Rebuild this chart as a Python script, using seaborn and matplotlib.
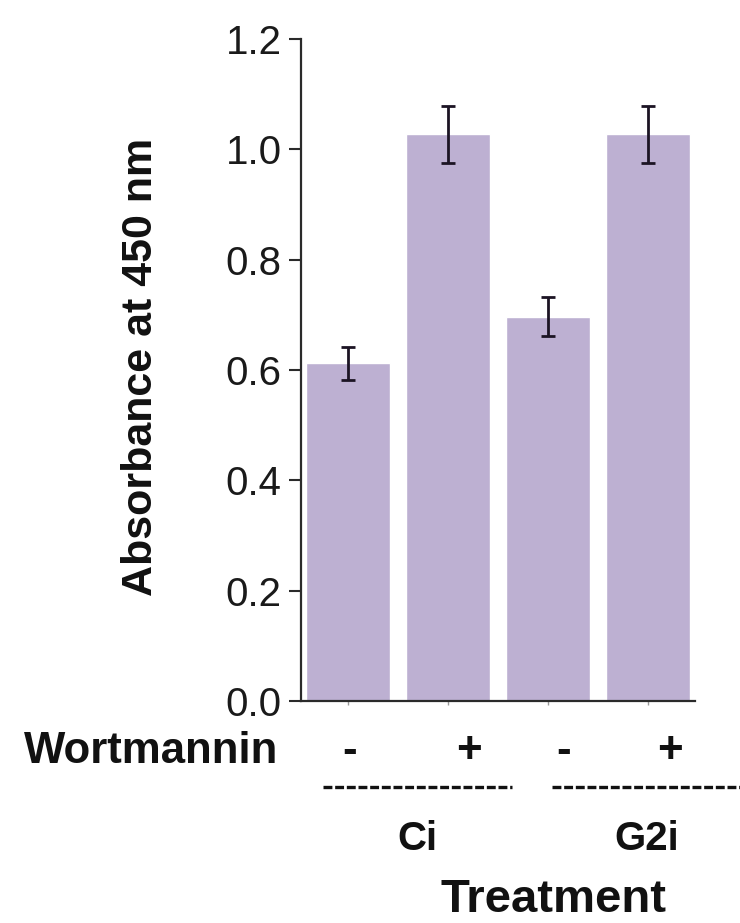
import matplotlib
matplotlib.use('Agg')
import matplotlib.pyplot as plt
from matplotlib.lines import Line2D
import seaborn as sns
import pandas as pd
import numpy as np

# ---- data ----
groups = ['Ci -', 'Ci +', 'G2i -', 'G2i +']
wortmannin = ['-', '+', '-', '+']
treatments = ['Ci', 'G2i']
absorbance = [0.612, 1.027, 0.697, 1.027]
sem = [0.030, 0.051, 0.035, 0.051]
yticks = [0.0, 0.2, 0.4, 0.6, 0.8, 1.0, 1.2]
ytick_labels = ['0.0', '0.2', '0.4', '0.6', '0.8', '1.0', '1.2']

BAR = '#BDB0D2'
DARK = '#1c1424'

sns.set_style('white')
plt.rcParams['font.family'] = ['Liberation Sans', 'DejaVu Sans']
plt.rcParams['lines.scale_dashes'] = False

df = pd.DataFrame({'group': groups, 'absorbance': absorbance})

fig = plt.figure(figsize=(7.4, 9.23), dpi=100)
ax = fig.add_axes([0.4068, 0.2405, 0.5324, 0.7172])

sns.barplot(data=df, x='group', y='absorbance', color=BAR, saturation=1,
            width=0.84, errorbar=None, ax=ax)
xpos = np.arange(len(groups))
ax.errorbar(x=xpos, y=absorbance, yerr=sem, fmt='none', ecolor=DARK,
            elinewidth=2.0, capsize=4.8, capthick=2.0, zorder=5)

ax.set_xlim(-0.47, 3.47)
ax.set_ylim(0, 1.2)
ax.set_yticks(yticks)
ax.set_yticklabels(ytick_labels)
ax.set_xticks(xpos)
ax.set_xticklabels([])
ax.set_xlabel('')

sns.despine(ax=ax)
for s in ['left', 'bottom']:
    ax.spines[s].set_linewidth(1.6)
    ax.spines[s].set_color('#2a2a2a')

ax.tick_params(axis='y', left=True, length=9, width=1.5, direction='out',
               pad=5, labelsize=29, color='#2a2a2a', labelcolor='#1a1a1a')
ax.tick_params(axis='x', bottom=True, length=3, width=1, direction='out',
               color='#999999')

ax.set_ylabel('Absorbance at 450 nm', fontsize=31, fontweight='bold',
              va='center', color='#111111')
ax.yaxis.set_label_coords(-0.405, 0.505)

# Bottom annotation rows
fig.text(0.3757, 0.1733, 'Wortmannin', ha='right', va='baseline',
         fontsize=31.5, fontweight='bold', color='#111111')
sign_x = [0.473, 0.634, 0.761, 0.905]
for sx, sgn in zip(sign_x, wortmannin):
    fig.text(sx, 0.1733, sgn, ha='center', va='baseline', fontsize=31.5,
             fontweight='bold', color='#111111')

for x0, x1 in [(0.436, 0.692), (0.746, 1.0)]:
    fig.add_artist(Line2D([x0, x1], [0.1473, 0.1473], transform=fig.transFigure,
                          color='#111111', lw=2.4, dashes=(6.4, 2.0)))

for tx, t in zip([0.5635, 0.874], treatments):
    fig.text(tx, 0.0791, t, ha='center', va='baseline', fontsize=29,
             fontweight='bold', color='#111111')

fig.text(0.7473, 0.0119, 'Treatment', ha='center', va='baseline',
         fontsize=34, fontweight='bold', color='#111111')

fig.savefig('out.png', dpi=100)
